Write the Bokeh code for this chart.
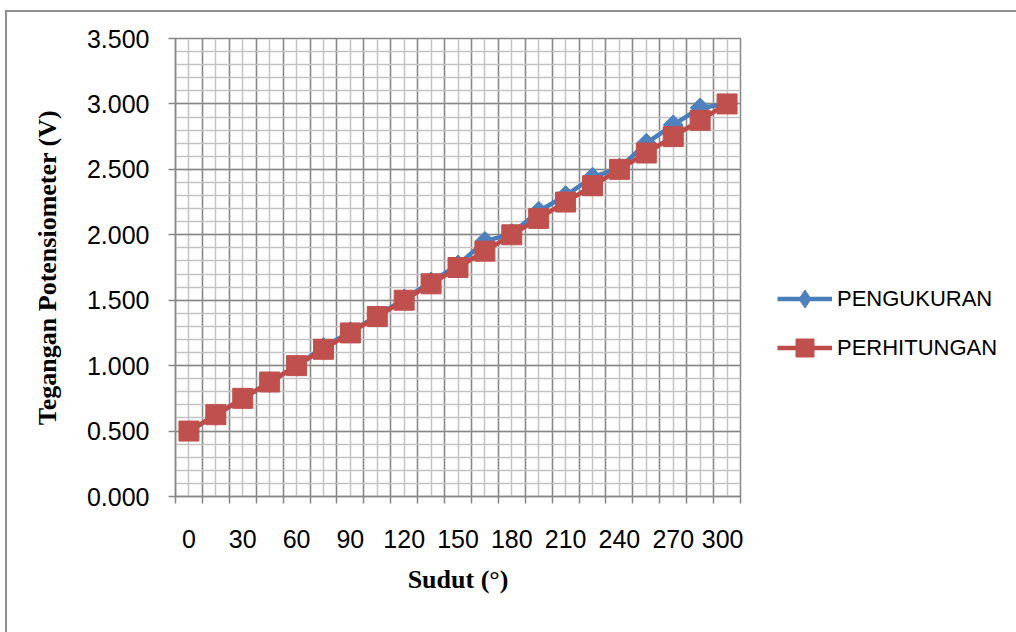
import math
from bokeh.plotting import figure
from bokeh.layouts import row
from bokeh.models import FixedTicker, NumeralTickFormatter, Legend, LegendItem, ColumnDataSource, Range1d
from bokeh.embed import file_html
from bokeh.resources import INLINE

# ---- data ----
angles = [0, 15, 30, 45, 60, 75, 90, 105, 120, 135, 150, 165, 180, 195, 210, 225, 240, 255, 270, 285, 300]
pengukuran = [0.50, 0.62, 0.75, 0.87, 1.00, 1.14, 1.26, 1.38, 1.51, 1.64, 1.77, 1.95, 2.01, 2.18, 2.30, 2.44, 2.51, 2.70, 2.84, 2.97, 3.00]
perhitungan = [0.500, 0.625, 0.750, 0.875, 1.000, 1.125, 1.250, 1.375, 1.500, 1.625, 1.750, 1.875, 2.000,
               2.125, 2.250, 2.375, 2.500, 2.625, 2.750, 2.875, 3.000]
x_labels = [0, 30, 60, 90, 120, 150, 180, 210, 240, 270, 300]
y_ticks = [0.0, 0.5, 1.0, 1.5, 2.0, 2.5, 3.0, 3.5]
y_minor = [round(i * 0.1, 1) for i in range(36)]
series_names = ["PENGUKURAN", "PERHITUNGAN"]

step = angles[1] - angles[0]
boundaries = [a - step / 2 for a in angles] + [angles[-1] + step / 2]

src = ColumnDataSource(dict(x=angles, a=pengukuran, b=perhitungan))

FONT_SANS = "'Liberation Sans Narrow', 'Arial Narrow', 'Liberation Sans', sans-serif"
FONT_SERIF = "Liberation Serif"
MAJ = "#878787"
MIN = "#c3c3c3"
BLUE = "#4A7EBB"
BLUE_M = "#4F81BD"
RED = "#BE4B48"
RED_M = "#C0504D"
BORDER = "2px solid #8f8f8f"

p = figure(width=738, height=622, output_backend="svg", toolbar_location=None,
           x_range=Range1d(boundaries[0], boundaries[-1]), y_range=Range1d(0, 3.5),
           min_border_left=168, min_border_right=5, min_border_top=26, min_border_bottom=138)
p.margin = (10, 0, 0, 5)
p.styles = {"border-left": BORDER, "border-top": BORDER}
p.background_fill_color = "white"
p.border_fill_color = "white"
p.outline_line_color = MAJ
p.outline_line_width = 1.5

# grids
p.xgrid.ticker = FixedTicker(ticks=boundaries, minor_ticks=angles)
p.ygrid.ticker = FixedTicker(ticks=y_ticks, minor_ticks=y_minor)
for g in (p.xgrid, p.ygrid):
    g.grid_line_color = MAJ
    g.grid_line_width = 1.6
    g.minor_grid_line_color = MIN
    g.minor_grid_line_width = 1.5
    g.level = "underlay"

# x axis
xa = p.xaxis[0]
xa.ticker = FixedTicker(ticks=x_labels, minor_ticks=boundaries)
xa.major_tick_out = 0
xa.major_tick_in = 0
xa.minor_tick_out = 7
xa.minor_tick_in = 0
xa.minor_tick_line_color = MAJ
xa.minor_tick_line_width = 1.5
xa.axis_line_color = MAJ
xa.axis_line_width = 1.5
xa.major_label_standoff = 26
xa.axis_label = "Sudut (°)"
xa.axis_label_standoff = 14

# y axis
ya = p.yaxis[0]
ya.ticker = FixedTicker(ticks=y_ticks, minor_ticks=[])
ya.formatter = NumeralTickFormatter(format="0.000")
ya.major_tick_out = 7
ya.major_tick_in = 0
ya.major_tick_line_color = MAJ
ya.major_tick_line_width = 1.5
ya.minor_tick_out = 0
ya.minor_tick_in = 0
ya.axis_line_color = MAJ
ya.axis_line_width = 1.5
ya.major_label_standoff = 19
ya.axis_label = "Tegangan Potensiometer (V)"
ya.axis_label_standoff = 22

for ax in (xa, ya):
    ax.major_label_text_font = FONT_SANS
    ax.major_label_text_font_size = "25px"
    ax.major_label_text_color = "black"
    ax.axis_label_text_font = FONT_SERIF
    ax.axis_label_text_font_style = "bold"
    ax.axis_label_text_font_size = "26px"
    ax.axis_label_text_color = "black"

# series
bl = p.line("x", "a", source=src, line_color=BLUE, line_width=4.5)
bm = p.scatter("x", "a", source=src, marker="square", angle=math.pi / 4, size=14,
               fill_color=BLUE_M, line_color=BLUE_M, line_width=1)
rl = p.line("x", "b", source=src, line_color=RED, line_width=4.5)
rm = p.scatter("x", "b", source=src, marker="square", size=20, fill_color=RED_M, line_color=RED_M, line_width=1)

# legend panel (separate figure so the legend is not clipped by the plot frame)
q = figure(width=273, height=622, output_backend="svg", toolbar_location=None,
           x_axis_type=None, y_axis_type=None, min_border=0,
           x_range=Range1d(0, 1), y_range=Range1d(0, 1))
q.margin = (10, 0, 0, 0)
q.styles = {"border-top": BORDER}
q.outline_line_color = None
q.grid.visible = False
q.background_fill_color = "white"
q.border_fill_color = "white"
lbl = q.line("x", "a", source=src, line_color=BLUE, line_width=4.5, visible=False)
lbm = q.scatter("x", "a", source=src, marker="diamond", fill_color=BLUE_M, line_color=BLUE_M, line_width=1, visible=False)
lrl = q.line("x", "b", source=src, line_color=RED, line_width=4.5, visible=False)
lrm = q.scatter("x", "b", source=src, marker="square", fill_color=RED_M, line_color=RED_M, line_width=1, visible=False)

legend = Legend(items=[LegendItem(label=series_names[0], renderers=[lbl, lbm]),
                       LegendItem(label=series_names[1], renderers=[lrl, lrm])],
                location=(34, 126), orientation="vertical")
legend.background_fill_alpha = 0
legend.border_line_color = None
legend.inactive_fill_alpha = 0
legend.padding = 0
legend.margin = 0
legend.spacing = 4
legend.glyph_width = 55
legend.glyph_height = 45
legend.label_standoff = 5
legend.label_text_font = FONT_SANS
legend.label_text_font_size = "22px"
legend.label_text_color = "black"
legend.label_text_baseline = "middle"
q.add_layout(legend)

lay = row(p, q)
open("out.html", "w").write(file_html(lay, INLINE))
